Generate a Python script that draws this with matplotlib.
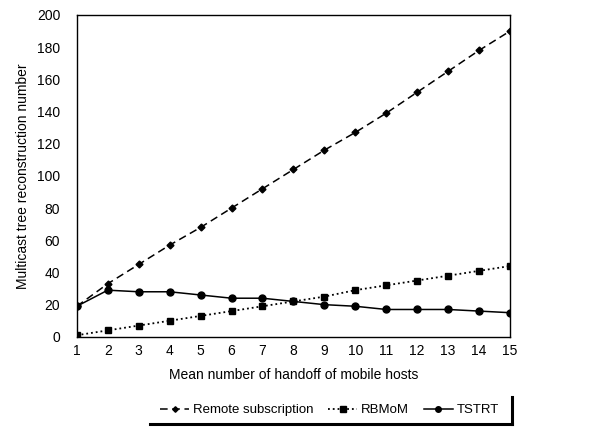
import matplotlib.pyplot as plt
import matplotlib as mpl
from matplotlib.lines import Line2D

mpl.rcParams['font.family'] = ['Liberation Sans', 'DejaVu Sans']

handoffs = list(range(1, 16))
remote = [19, 33, 45, 57, 68, 80, 92, 104, 116, 127, 139, 152, 165, 178, 190]
rbmom = [1, 4, 7, 10, 13, 16, 19, 22, 25, 29, 32, 35, 38, 41, 44]
tstrt = [19, 29, 28, 28, 26, 24, 24, 22, 20, 19, 17, 17, 17, 16, 15]

fig = plt.figure(figsize=(6.05, 4.28), dpi=100)
ax = fig.add_axes([0.127, 0.213, 0.716, 0.752])

ax.plot(handoffs, remote, color='black', linestyle=(0, (5, 3)), linewidth=1.1,
        marker='D', markersize=3.5, label='Remote subscription')
ax.plot(handoffs, rbmom, color='black', linestyle=':', linewidth=1.3,
        marker='s', markersize=5, label='RBMoM')
ax.plot(handoffs, tstrt, color='black', linestyle='-', linewidth=1.1,
        marker='o', markersize=5, label='TSTRT')

ax.set_xlim(1, 15)
ax.set_ylim(0, 200)
ax.set_xticks(handoffs)
ax.set_yticks(range(0, 201, 20))
ax.tick_params(axis='y', length=0, labelsize=10, pad=12)
ax.tick_params(axis='x', length=0, labelsize=10, pad=5)
for s in ax.spines.values():
    s.set_linewidth(1.0)
ax.set_xlabel('Mean number of handoff of mobile hosts', fontsize=10, labelpad=7)
ax.set_ylabel('Multicast tree reconstruction number', fontsize=10, labelpad=5)

leg = fig.legend(loc='center', bbox_to_anchor=(0.545, 0.042), ncol=3, frameon=False,
                 fontsize=9.5, handlelength=2.2, columnspacing=1.1, handletextpad=0.3,
                 markerscale=0.8)

# shadow-like border on right and bottom of the legend
fig.add_artist(Line2D([0.248, 0.846], [0.01, 0.01], color='black', linewidth=2.2,
                      transform=fig.transFigure))
fig.add_artist(Line2D([0.846, 0.846], [0.01, 0.072], color='black', linewidth=2.2,
                      transform=fig.transFigure))

fig.savefig('out.png', dpi=100)
